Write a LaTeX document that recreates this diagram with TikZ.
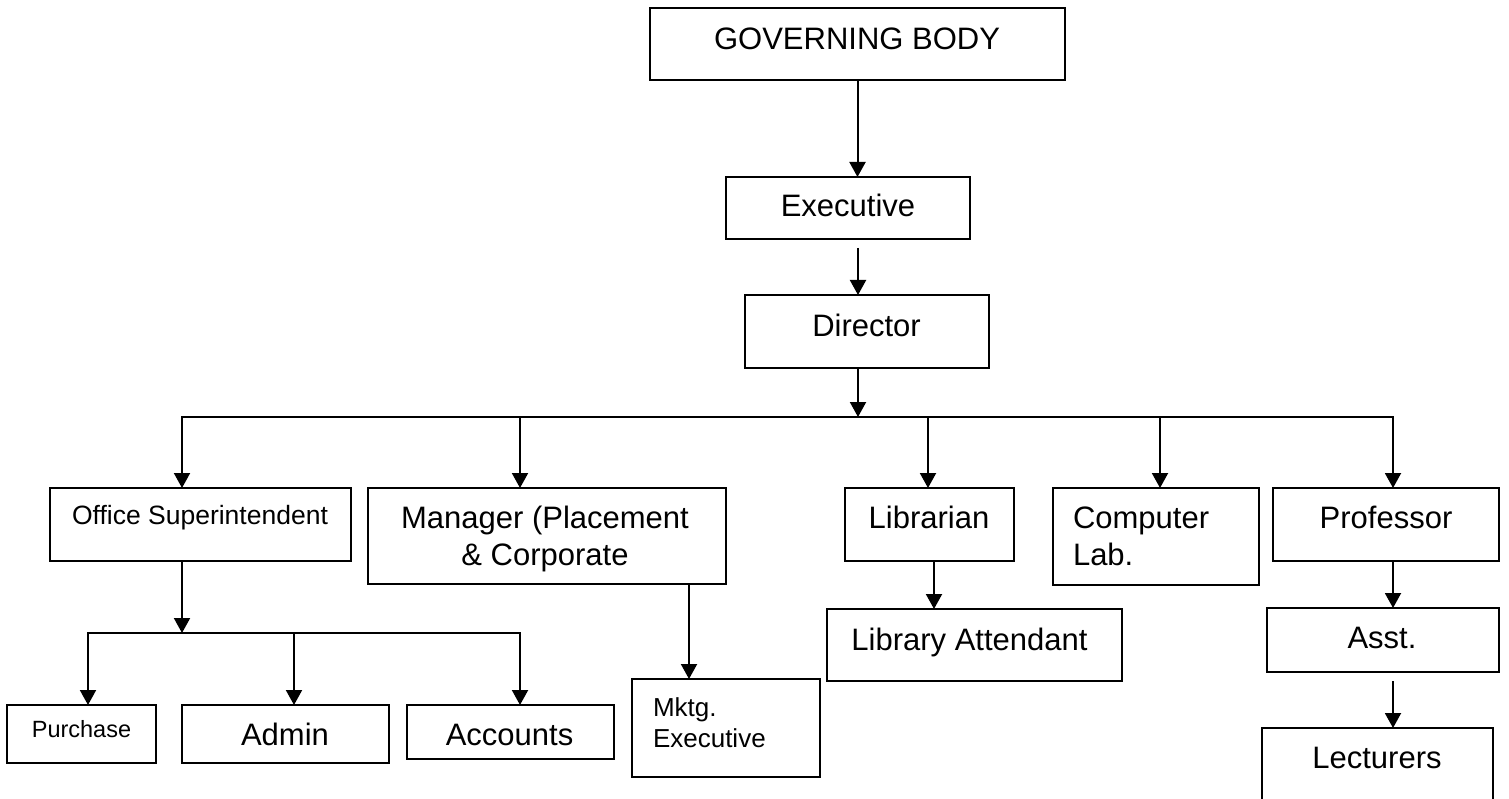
\documentclass[tikz,border=0pt]{standalone}
\usepackage{fontspec}
\setmainfont{Liberation Sans}
\usetikzlibrary{arrows.meta}
\begin{document}
\begin{tikzpicture}[x=1pt,y=-1pt,
  box/.style={draw=black, line width=2pt, inner sep=0pt, outer sep=0pt, fill=white},
  ln/.style={draw=black, line width=2pt},
  arr/.style={ln, -{Triangle[width=16pt,length=15pt]}},
  lbl/.style={inner sep=0pt, outer sep=0pt, anchor=base, font=\fontsize{31}{37}\selectfont},
  lblm/.style={lbl, font=\fontsize{26.5}{31}\selectfont},
  lbls/.style={lbl, font=\fontsize{23.5}{28}\selectfont}]
\fill[white] (0,0) rectangle (1509,799);
\useasboundingbox (0,0) rectangle (1509,799);

% boxes
\node[box, minimum width=415, minimum height=72] (gb)   at (857.5,44)  {};
\node[box, minimum width=244, minimum height=62] (exec) at (848,208)   {};
\node[box, minimum width=244, minimum height=73] (dir)  at (867,331.5) {};
\node[box, minimum width=301, minimum height=73] (os)   at (200.5,524.5) {};
\node[box, minimum width=358, minimum height=96] (mgr)  at (547,536)   {};
\node[box, minimum width=169, minimum height=73] (lib)  at (929.5,524.5) {};
\node[box, minimum width=206, minimum height=97] (comp) at (1156,536.5) {};
\node[box, minimum width=226, minimum height=73] (prof) at (1386,524.5) {};
\node[box, minimum width=149, minimum height=58] (pur)  at (81.5,734)  {};
\node[box, minimum width=207, minimum height=58] (adm)  at (285.5,734) {};
\node[box, minimum width=207, minimum height=54] (acc)  at (510.5,732) {};
\node[box, minimum width=188, minimum height=98] (mktg) at (726,728)   {};
\node[box, minimum width=295, minimum height=72] (la)   at (974.5,645) {};
\node[box, minimum width=232, minimum height=64] (asst) at (1383,640)  {};
\begin{scope}
\clip (0,0) rectangle (1509,799);
\node[box, minimum width=231, minimum height=112] (lect) at (1377.5,784) {};
\end{scope}

% texts
\node[lbl] (gbt)   at (857,50)    {GOVERNING BODY};
\node[lbl] (exect) at (848,217)   {Executive};
\node[lbl] (dirt)  at (866.5,337) {Director};
\node[lblm] (ost)  at (200,524)   {Office Superintendent};
\node[lbl] (mgrt)  at (545,528)   {\begin{tabular}[t]{@{}c@{}}Manager (Placement\\ \& Corporate\end{tabular}};
\node[lbl] (libt)  at (929,528)   {Librarian};
\node[lbl, anchor=base west] (compt) at (1073,528) {\begin{tabular}[t]{@{}l@{}}Computer\\ Lab.\end{tabular}};
\node[lbl] (proft) at (1386,528)  {Professor};
\node[lbls] (purt) at (81.5,737)  {Purchase};
\node[lbl] (admt)  at (285,745)   {Admin};
\node[lbl] (acct)  at (509.5,745) {Accounts};
\node[lblm, anchor=base west, font=\fontsize{26}{31}\selectfont] (mktgt) at (653,716) {\begin{tabular}[t]{@{}l@{}}Mktg.\\ Executive\end{tabular}};
\node[lbl] (lat)   at (969.5,650) {Library Attendant};
\node[lbl] (asstt) at (1382,648)  {Asst.};
\node[lbl] (lectt) at (1377,768)  {Lecturers};

% connector points
\coordinate (e1) at (858,248);
\coordinate (b)  at (858,417);
\coordinate (bl) at (182,417);
\coordinate (b2) at (520,417);
\coordinate (b3) at (928,417);
\coordinate (b4) at (1160,417);
\coordinate (br) at (1393,417);
\coordinate (s)  at (182,633);
\coordinate (s1) at (88,633);
\coordinate (s2) at (294,633);
\coordinate (s3) at (520,633);
\coordinate (m)  at (689,600);
\coordinate (l)  at (934,600);
\coordinate (a1) at (1393,681);

% connectors
\draw[arr] (gb.south) -- (gb.south |- exec.north);
\draw[arr] (e1) -- (e1 |- dir.north);
\draw[arr] (b |- dir.south) -- (b);
\draw[arr] (b2) -- (bl) -- (bl |- os.north);
\draw[arr] (b2) -- (br) -- (br |- prof.north);
\draw[arr] (b2) -- (b2 |- mgr.north);
\draw[arr] (b3) -- (b3 |- lib.north);
\draw[arr] (b4) -- (b4 |- comp.north);
\draw[arr] (s |- os.south) -- (s);
\draw[arr] (s2) -- (s1) -- (s1 |- pur.north);
\draw[arr] (s2) -- (s3) -- (s3 |- acc.north);
\draw[arr] (s2) -- (s2 |- adm.north);
\draw[arr] (m |- mgr.south) -- (m |- mktg.north);
\draw[arr] (l |- lib.south) -- (l |- la.north);
\draw[arr] (br |- prof.south) -- (br |- asst.north);
\draw[arr] (a1) -- (a1 |- lect.north);
\end{tikzpicture}
\end{document}
